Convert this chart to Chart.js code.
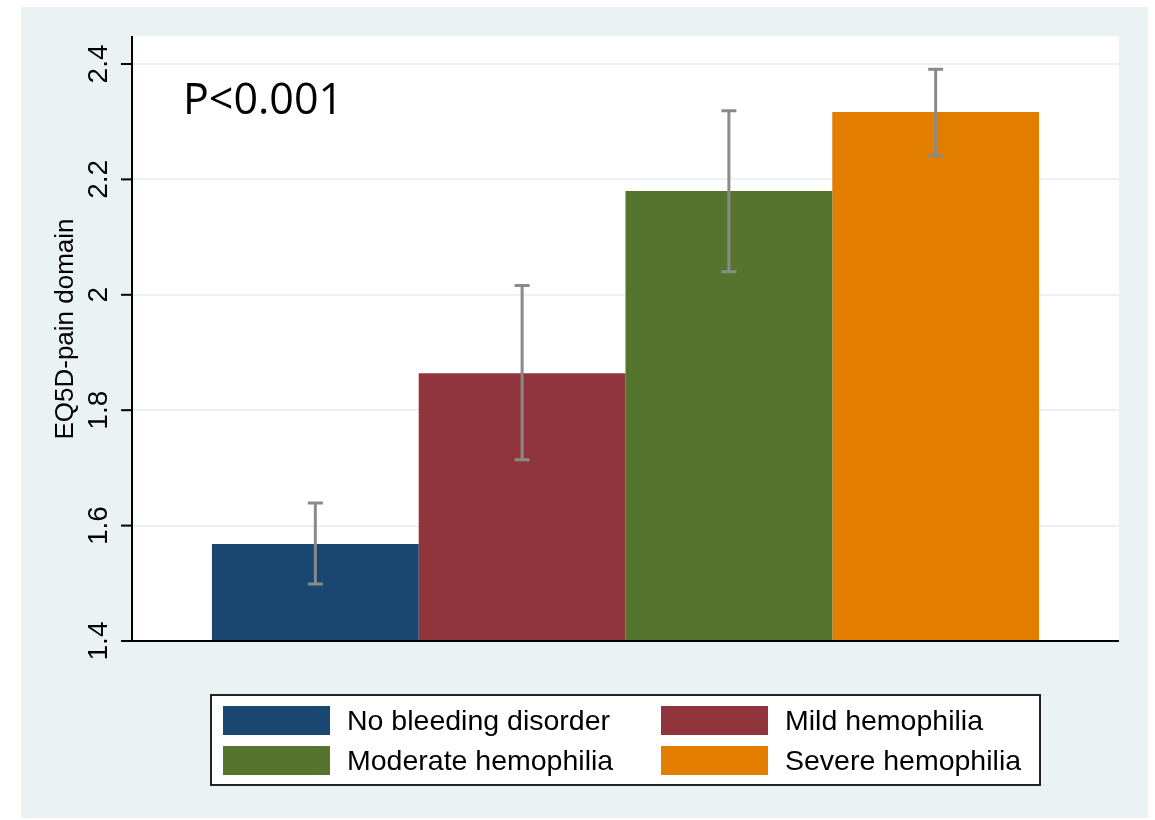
<!DOCTYPE html>
<html>
<head>
  <meta charset="utf-8">
  <title>EQ5D pain domain</title>
  <script src="https://cdn.jsdelivr.net/npm/chart.js@4"></script>
<style>
body{
	margin: 0;
	background-color: #ffffff;
}
#painChart{
	display: block;
}
</style>
</head>
<body>
  <canvas id="painChart" width="1155" height="820"></canvas>

<script>
// chart values
var categories = ["No bleeding disorder", "Mild hemophilia", "Moderate hemophilia", "Severe hemophilia"];
var means = [1.568, 1.864, 2.180, 2.317];
var lower = [1.499, 1.714, 2.040, 2.241];
var upper = [1.639, 2.016, 2.319, 2.391];
var barColors = ["#1A476F", "#90353B", "#55752F", "#E37E00"];
var yTicks = [1.4, 1.6, 1.8, 2, 2.2, 2.4];
var pText = "P<0.001";
var yTitle = "EQ5D-pain domain";

var datasets = [];
for (var i = 0; i < categories.length; i++) {
  datasets.push({
    label: categories[i],
    data: [means[i]],
    backgroundColor: barColors[i],
    borderWidth: 0,
    barPercentage: 1,
    categoryPercentage: 0.838
  });
}

//background, error bars, axes and legend
var stataLook = {
  id: "stataLook",
  beforeDraw: function(chart) {
    var ctx = chart.ctx, a = chart.chartArea;
    ctx.save();
    ctx.fillStyle = "#ffffff";
    ctx.fillRect(0, 0, chart.width, chart.height);
    ctx.fillStyle = "#EAF2F3";
    ctx.fillRect(21, 7, 1127, 811);
    ctx.fillStyle = "#ffffff";
    ctx.fillRect(a.left, a.top, a.right - a.left, a.bottom - a.top);
    ctx.restore();
  },
  afterDatasetsDraw: function(chart) {
    var ctx = chart.ctx, y = chart.scales.y;
    ctx.save();
    ctx.strokeStyle = "#8A8A8A";
    ctx.lineWidth = 3;
    for (var i = 0; i < categories.length; i++) {
      var bar = chart.getDatasetMeta(i).data[0];
      var yl = y.getPixelForValue(lower[i]), yh = y.getPixelForValue(upper[i]);
      ctx.beginPath();
      ctx.moveTo(bar.x, yl); ctx.lineTo(bar.x, yh);
      ctx.moveTo(bar.x - 7.5, yl); ctx.lineTo(bar.x + 7.5, yl);
      ctx.moveTo(bar.x - 7.5, yh); ctx.lineTo(bar.x + 7.5, yh);
      ctx.stroke();
    }
    ctx.restore();
  },
  afterDraw: function(chart) {
    var ctx = chart.ctx, a = chart.chartArea, y = chart.scales.y;
    ctx.save();
    // axis lines
    ctx.strokeStyle = "#000000";
    ctx.lineWidth = 2;
    ctx.beginPath();
    ctx.moveTo(a.left, a.top); ctx.lineTo(a.left, a.bottom);
    ctx.moveTo(121, a.bottom); ctx.lineTo(a.right, a.bottom);
    ctx.stroke();
    // ticks + rotated labels
    ctx.fillStyle = "#000000";
    ctx.font = '28px "Liberation Sans", Arial, sans-serif';
    ctx.textAlign = "center";
    ctx.textBaseline = "middle";
    for (var t = 0; t < yTicks.length; t++) {
      var py = y.getPixelForValue(yTicks[t]);
      ctx.beginPath();
      ctx.moveTo(121, py); ctx.lineTo(a.left, py);
      ctx.stroke();
      ctx.save();
      ctx.translate(99, py);
      ctx.rotate(-Math.PI / 2);
      ctx.fillText(String(yTicks[t]), 0, 0);
      ctx.restore();
    }
    // y title
    ctx.save();
    ctx.font = '26px "Liberation Sans", Arial, sans-serif';
    ctx.translate(66, 329);
    ctx.rotate(-Math.PI / 2);
    ctx.fillText(yTitle, 0, 0);
    ctx.restore();
    // p value
    ctx.textAlign = "left";
    ctx.textBaseline = "alphabetic";
    ctx.font = '43px "Open Sans", sans-serif';
    ctx.fillText(pText, 183, 114);
    // legend box
    ctx.fillStyle = "#ffffff";
    ctx.fillRect(211, 695, 829, 90);
    ctx.strokeStyle = "#222222";
    ctx.lineWidth = 2;
    ctx.strokeRect(211, 695, 829, 90);
    ctx.font = '28.5px "Liberation Sans", Arial, sans-serif';
    ctx.textBaseline = "middle";
    var colX = [223, 661], rowY = [706, 746];
    for (var k = 0; k < categories.length; k++) {
      var cx = colX[k % 2], cy = rowY[Math.floor(k / 2)];
      ctx.fillStyle = barColors[k];
      ctx.fillRect(cx, cy, 107, 29);
      ctx.fillStyle = "#000000";
      ctx.fillText(categories[k], cx + 124, cy + 16);
    }
    ctx.restore();
  }
};

var ctx = document.getElementById("painChart").getContext("2d");
var painChart = new Chart(ctx, {
  type: "bar",
  data: { labels: [""], datasets: datasets },
  options: {
    responsive: false,
    animation: false,
    layout: { padding: { top: 36, left: 0, right: 36, bottom: 179 } },
    plugins: { legend: { display: false }, tooltip: { enabled: false } },
    scales: {
      x: { display: false },
      y: {
        min: 1.4,
        max: 2.4485,
        afterBuildTicks: function(s) {
          s.ticks = yTicks.map(function(v) { return { value: v }; });
        },
        afterFit: function(s) { s.width = 132; },
        ticks: { display: false },
        border: { display: false },
        grid: { color: "#EAF2F3", lineWidth: 2, drawTicks: false }
      }
    }
  },
  plugins: [stataLook]
});
</script>
</body>
</html>
